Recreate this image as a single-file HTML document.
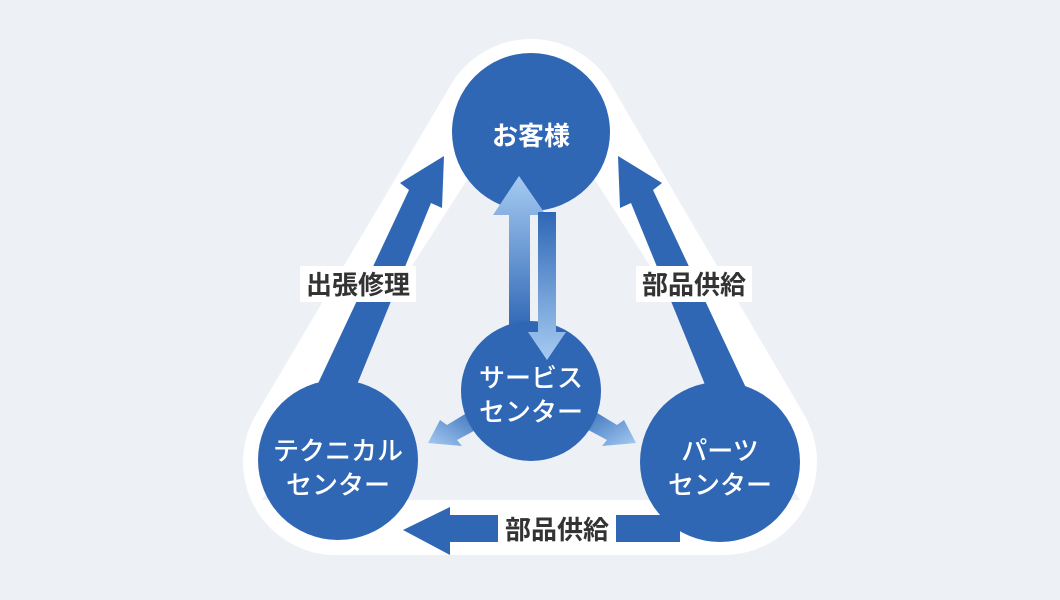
<!DOCTYPE html>
<html><head><meta charset="utf-8"><style>
html,body{margin:0;padding:0;background:#edf0f5;}
svg{display:block}
text{font-family:"Liberation Sans","Noto Sans CJK JP",sans-serif;}
</style></head><body>
<svg width="1060" height="600" viewBox="0 0 1060 600" xmlns="http://www.w3.org/2000/svg">
<defs>
<linearGradient id="gu" x1="0" y1="0" x2="0" y2="1"><stop offset="0" stop-color="#a6cbf2"/><stop offset="1" stop-color="#2f67b5"/></linearGradient>
<linearGradient id="gd" x1="0" y1="0" x2="0" y2="1"><stop offset="0" stop-color="#2f67b5"/><stop offset="1" stop-color="#a6cbf2"/></linearGradient>
<linearGradient id="gl" x1="1" y1="0" x2="0" y2="1"><stop offset="0" stop-color="#2f67b5"/><stop offset="1" stop-color="#a6cbf2"/></linearGradient>
<linearGradient id="gr" x1="0" y1="0" x2="1" y2="1"><stop offset="0" stop-color="#2f67b5"/><stop offset="1" stop-color="#a6cbf2"/></linearGradient>
</defs>
<rect width="1060" height="600" fill="#edf0f5"/>
<polygon points="531,132 336,462 724,462" fill="#fff" stroke="#fff" stroke-width="186" stroke-linejoin="round"/>
<polygon points="531,80 262,500 800,500" fill="#edf0f5"/>
<!-- left arrow -->
<polygon points="444,156 400,183 409,190 314,392 354,392 431,203 442,208" fill="#2f67b5"/>
<!-- right arrow -->
<polygon points="618,156 662,183 653,190 748,392 708,392 631,203 620,208" fill="#2f67b5"/>
<!-- bottom arrow -->
<polygon points="403,530 450,507 450,515 680,515 680,542 450,542 450,555" fill="#2f67b5"/>
<!-- circles -->
<circle cx="531" cy="132" r="79" fill="#2f67b5"/>
<circle cx="338" cy="460" r="80" fill="#2f67b5"/>
<circle cx="720" cy="462" r="80" fill="#2f67b5"/>
<!-- center arrows -->
<polygon points="519,176 493,215 509,215 509,330 530,330 530,215 546,215" fill="url(#gu)"/>
<polygon points="428,443 440,420 447,425 475,408 485,425 457,440 462,446" fill="url(#gl)"/>
<polygon points="636,443 624,420 617,425 589,408 579,425 607,440 602,446" fill="url(#gr)"/>
<circle cx="531" cy="391" r="70" fill="#2f67b5"/>
<polygon points="547,360 528,332 538,332 538,212 556,212 556,332 566,332" fill="url(#gd)"/>
<!-- labels -->
<g fill="#fff" font-size="26" font-weight="500" text-anchor="middle">
<text x="531" y="145" font-weight="bold">お客様</text>
<text x="531" y="387">サービス</text>
<text x="531" y="421">センター</text>
<text x="338" y="460">テクニカル</text>
<text x="338" y="494">センター</text>
<text x="720" y="460">パーツ</text>
<text x="720" y="494">センター</text>
</g>
<rect x="300" y="266" width="116" height="36" fill="#fff"/>
<rect x="636" y="266" width="116" height="36" fill="#fff"/>
<rect x="498" y="512" width="118" height="34" fill="#fff"/>
<g fill="#333" font-size="26" font-weight="bold" text-anchor="middle">
<text x="358" y="294">出張修理</text>
<text x="694" y="294">部品供給</text>
<text x="557" y="539">部品供給</text>
</g>
</svg>
</body></html>
